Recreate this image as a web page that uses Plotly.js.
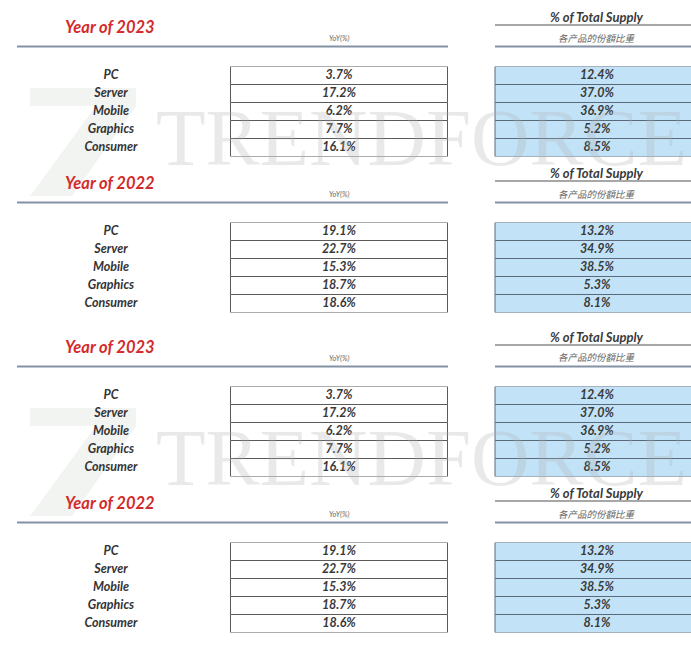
<!DOCTYPE html>
<html>
<head>
<meta charset="utf-8">
<script src="https://cdn.plot.ly/plotly-3.0.1.min.js"></script>
<style>html,body{margin:0;padding:0;background:#fff;}#chart{width:691px;height:646px;}</style>
</head>
<body>
<div id="chart"></div>
<script>
// ---- data ----
const categories = ['PC', 'Server', 'Mobile', 'Graphics', 'Consumer'];
const yoy2023 = [3.7, 17.2, 6.2, 7.7, 16.1];
const share2023 = [12.4, 37.0, 36.9, 5.2, 8.5];
const yoy2022 = [19.1, 22.7, 15.3, 18.7, 18.6];
const share2022 = [13.2, 34.9, 38.5, 5.3, 8.1];
const blockYears = ['2023', '2022', '2023', '2022'];
const yoyLabel = 'YoY(%)';
const shareTitle = '% of Total Supply';
const shareSub = '各产品的份額比重';
const watermark = 'TRENDFORCE';

// ---- layout helpers ----
const W = 691, H = 646;
const px = x => x / W;
const py = y => 1 - y / H;
const FONT = 'Lato, "Open Sans", "DejaVu Sans", sans-serif';
const fmt = arr => arr.map(v => v.toFixed(1) + '%');
const dataByYear = {'2023': [yoy2023, share2023], '2022': [yoy2022, share2022]};
const blockTops = [0, 156, 320, 476];
const ROW = 18;
// column geometry (x axis runs in page pixels)
const CAT_X = 111;
const YOY_L = 230.5, YOY_R = 447.5;
const SH_L = 495, SH_R = 705;

const traces = [];
const annotations = [];
const shapes = [];
const layout = {
  width: W, height: H,
  margin: {l: 0, r: 0, t: 0, b: 0},
  paper_bgcolor: '#ffffff', plot_bgcolor: 'rgba(0,0,0,0)',
  showlegend: false, barmode: 'overlay',
  xaxis: {range: [0, W], domain: [0, 1], visible: false, fixedrange: true},
};

// watermark logo + text
[0, 320].forEach(o => {
  const pts = [[30,88],[136,88],[136,106],[72,196],[30,196],[96,106],[30,106]];
  const path = 'M ' + pts.map(p => px(p[0]) + ',' + py(p[1] + o)).join(' L ') + ' Z';
  shapes.push({type: 'path', xref: 'paper', yref: 'paper', path: path,
    fillcolor: 'rgba(205,210,198,0.25)', line: {width: 0}, layer: 'below'});
  annotations.push({xref: 'paper', yref: 'paper', x: px(421), y: py(138 + o),
    xanchor: 'center', yanchor: 'middle', showarrow: false, text: watermark,
    font: {family: '"Liberation Serif", "DejaVu Serif", serif', size: 81, color: 'rgba(175,175,175,0.27)'}});
});

blockYears.forEach((yr, i) => {
  const o = blockTops[i];
  const [yoy, share] = dataByYear[yr];
  const boxTop = o + 66.5;
  const boxBot = boxTop + ROW * categories.length;
  const yid = i === 0 ? 'y' : 'y' + (i + 1);
  const yname = i === 0 ? 'yaxis' : 'yaxis' + (i + 1);
  layout[yname] = {domain: [py(boxBot), py(boxTop)], type: 'category',
    categoryorder: 'array', categoryarray: categories,
    range: [categories.length - 0.5, -0.5], visible: false, fixedrange: true,
    anchor: 'x'};
  // YoY box (white cells)
  traces.push({type: 'bar', orientation: 'h', xaxis: 'x', yaxis: yid,
    y: categories, x: categories.map(() => YOY_R - YOY_L), base: YOY_L, width: 1,
    marker: {color: '#ffffff', line: {color: '#5a5a5a', width: 1}}, hoverinfo: 'skip'});
  // share box (blue cells)
  traces.push({type: 'bar', orientation: 'h', xaxis: 'x', yaxis: yid,
    y: categories, x: categories.map(() => SH_R - SH_L), base: SH_L, width: 1,
    marker: {color: '#c2e3f7', line: {color: '#5a6a7a', width: 1}}, hoverinfo: 'skip'});
  // category labels
  traces.push({type: 'scatter', mode: 'text', xaxis: 'x', yaxis: yid,
    y: categories, x: categories.map(() => CAT_X), text: categories,
    textposition: 'middle center', cliponaxis: false, hoverinfo: 'skip',
    textfont: {family: FONT, size: 12.5, color: '#333333', weight: 'bold', style: 'italic'}});
  // YoY values
  traces.push({type: 'scatter', mode: 'text', xaxis: 'x', yaxis: yid,
    y: categories, x: categories.map(() => (YOY_L + YOY_R) / 2), text: fmt(yoy),
    textposition: 'middle center', cliponaxis: false, hoverinfo: 'skip',
    textfont: {family: FONT, size: 12.5, color: '#3a3a3a', weight: 'bold', style: 'italic'}});
  // share values
  traces.push({type: 'scatter', mode: 'text', xaxis: 'x', yaxis: yid,
    y: categories, x: categories.map(() => 597), text: fmt(share),
    textposition: 'middle center', cliponaxis: false, hoverinfo: 'skip',
    textfont: {family: FONT, size: 12.5, color: '#3a3a3a', weight: 'bold', style: 'italic'}});

  annotations.push({xref: 'paper', yref: 'paper', x: px(63), y: py(o + 27),
    xanchor: 'left', yanchor: 'middle', showarrow: false, text: 'Year of ' + yr,
    font: {family: FONT, size: 16.5, color: '#d32b2b', weight: 'bold', style: 'italic'}});
  annotations.push({xref: 'paper', yref: 'paper', x: px(339), y: py(o + 38),
    xanchor: 'center', yanchor: 'middle', showarrow: false, text: yoyLabel,
    font: {family: FONT, size: 7.5, color: '#666', style: 'italic'}});
  annotations.push({xref: 'paper', yref: 'paper', x: px(597), y: py(o + 17),
    xanchor: 'center', yanchor: 'middle', showarrow: false, text: shareTitle,
    font: {family: FONT, size: 13, color: '#3a3a3a', weight: 'bold', style: 'italic'}});
  annotations.push({xref: 'paper', yref: 'paper', x: px(597), y: py(o + 37.5),
    xanchor: 'center', yanchor: 'middle', showarrow: false, text: shareSub,
    font: {family: '"Noto Sans CJK SC", sans-serif', size: 9.5, color: '#666', style: 'italic'}});

  shapes.push({type: 'line', xref: 'paper', yref: 'paper', x0: px(17), x1: px(448),
    y0: py(o + 46.5), y1: py(o + 46.5), line: {color: '#8492a6', width: 2}});
  shapes.push({type: 'line', xref: 'paper', yref: 'paper', x0: px(495), x1: 1,
    y0: py(o + 25), y1: py(o + 25), line: {color: '#8a8a8a', width: 1.3}});
  shapes.push({type: 'line', xref: 'paper', yref: 'paper', x0: px(495), x1: 1,
    y0: py(o + 46.5), y1: py(o + 46.5), line: {color: '#8492a6', width: 2}});
});

layout.annotations = annotations;
layout.shapes = shapes;
Plotly.newPlot('chart', traces, layout, {displayModeBar: false, staticPlot: true});
</script>
</body>
</html>
